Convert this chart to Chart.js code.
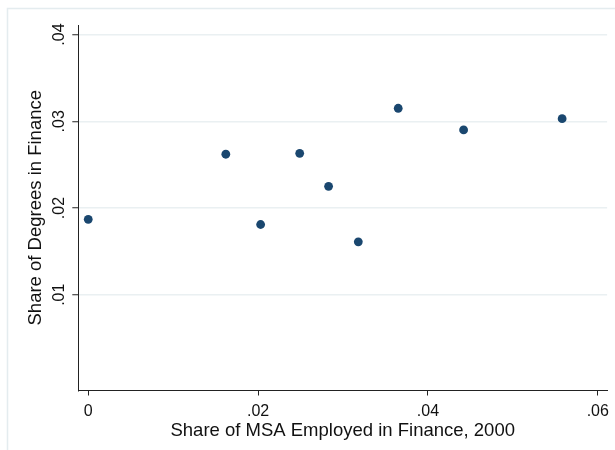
<!DOCTYPE html>
<html>
<head>
<meta charset="utf-8">
<script src="https://cdn.jsdelivr.net/npm/chart.js@4"></script>
<style>
  body { margin: 0; background: #fff; }
  canvas { display: block; }
</style>
</head>
<body>
<canvas id="grafico" width="615" height="450"></canvas>
<script>
// share of MSA employed in finance (x) vs share of degrees in finance (y)
const finEmp = [0.0000, 0.0162, 0.0203, 0.0249, 0.0283, 0.0318, 0.0365, 0.0442, 0.0558];
const finDeg = [0.0187, 0.0262, 0.0181, 0.0263, 0.0225, 0.0161, 0.0315, 0.0290, 0.0303];

const xTicks = [0, 0.02, 0.04, 0.06];
const yTicks = [0.01, 0.02, 0.03, 0.04];

const navy = '#1a476f';
const gridCol = '#eaf0f2';
const axisCol = '#222222';

const pontos = finEmp.map((x, i) => ({ x: x, y: finDeg[i] }));

function fmt(v) {
    if (v === 0) return '0';
    return v.toFixed(2).replace(/^0/, '');
}

// white page + light outer frame like Stata graph region
const moldura = {
    id: 'moldura',
    beforeDraw(chart) {
        const ctx = chart.ctx;
        ctx.save();
        ctx.fillStyle = '#ffffff';
        ctx.fillRect(0, 0, chart.width, chart.height);
        ctx.strokeStyle = '#e4ecef';
        ctx.lineWidth = 1.5;
        ctx.strokeRect(7.5, 8.5, chart.width + 10, chart.height + 10);
        ctx.restore();
    }
};

const data = {
    datasets: [{
        label: 'finance',
        data: pontos,
        backgroundColor: navy,
        borderColor: navy,
        pointRadius: 4.4,
        pointHoverRadius: 4.4,
        borderWidth: 0
    }]
};

const config = {
    type: 'scatter',
    data: data,
    plugins: [moldura],
    options: {
        responsive: false,
        animation: false,
        events: [],
        layout: { padding: { left: 0, top: 25, right: 5, bottom: 0 } },
        scales: {
            x: {
                type: 'linear',
                min: -0.00117,
                max: 0.0611,
                afterFit(scale) { scale.height = 59.5; },
                afterBuildTicks(scale) { scale.ticks = xTicks.map(v => ({ value: v })); },
                grid: {
                    drawOnChartArea: false,
                    drawTicks: true,
                    tickLength: 5,
                    tickColor: axisCol,
                    tickWidth: 1
                },
                border: { display: true, color: axisCol, width: 1 },
                ticks: {
                    color: '#111',
                    padding: 6,
                    maxRotation: 0,
                    minRotation: 0,
                    font: { family: 'Liberation Sans', size: 16 },
                    callback: v => fmt(v)
                },
                title: {
                    display: true,
                    text: 'Share of MSA Employed in Finance, 2000',
                    color: '#111',
                    padding: { top: 8, bottom: 8 },
                    font: { family: 'Liberation Sans', size: 18.5 }
                }
            },
            y: {
                type: 'linear',
                min: -0.00104,
                max: 0.0411,
                afterFit(scale) { scale.width = 78.3; },
                afterBuildTicks(scale) { scale.ticks = yTicks.map(v => ({ value: v })); },
                grid: {
                    color: gridCol,
                    lineWidth: 1.5,
                    drawTicks: true,
                    tickLength: 6,
                    tickColor: axisCol,
                    tickWidth: 1
                },
                border: { display: true, color: axisCol, width: 1 },
                ticks: {
                    color: '#111',
                    padding: 2,
                    crossAlign: 'center',
                    minRotation: 90,
                    maxRotation: 90,
                    font: { family: 'Liberation Sans', size: 16 },
                    callback: v => fmt(v)
                },
                title: {
                    display: true,
                    text: 'Share of Degrees in Finance',
                    color: '#111',
                    padding: { top: 25, bottom: 25 },
                    font: { family: 'Liberation Sans', size: 18.5 }
                }
            }
        },
        plugins: {
            legend: { display: false },
            tooltip: { enabled: false },
            title: { display: false }
        }
    }
};

const grafico_1 = new Chart(document.getElementById('grafico'), config);
</script>
</body>
</html>
